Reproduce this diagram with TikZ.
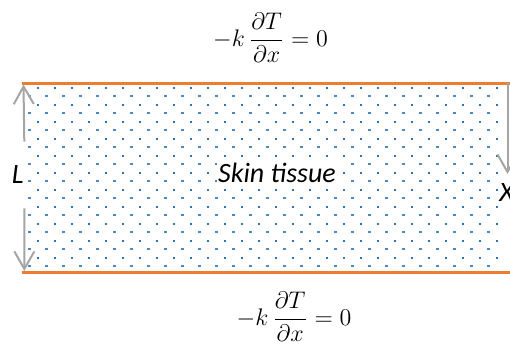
\documentclass[tikz,border=0pt]{standalone}
\usepackage{fontspec}
\setmainfont{Carlito}
\usetikzlibrary{arrows.meta}
\definecolor{orng}{HTML}{ED7D31}
\definecolor{gry}{HTML}{A5A5A5}
\definecolor{dotc}{HTML}{2E75B6}
\begin{document}
\begin{tikzpicture}[x=0.5pt,y=-0.5pt,
  bound/.style={draw=orng,line width=1.7pt},
  dimarrow/.style={draw=gry,line width=1pt,-{Straight Barb[length=8.8pt,width=10pt]}},
  lbl/.style={font=\fontsize{14}{16}\selectfont\itshape,inner sep=0pt},
  eqn/.style={font=\fontsize{11.5}{13}\selectfont,inner sep=0pt}]
\useasboundingbox (0,0) rectangle (510,347);
% dotted tissue fill
\foreach \j in {0,...,10}{
  \foreach \i in {0,...,27}{
    \fill[dotc] ({37.7+17*\i-1.1},{87.7+17*\j-1.1}) rectangle +(2.2,2.2);
    \fill[dotc!85] ({29.2+17*\i-1.3},{96.2+17*\j-0.7}) rectangle +(2.6,1.4);
  }
}
% boundaries
\coordinate (tl) at (22,83.3);
\coordinate (tr) at (510,83.3);
\coordinate (bl) at (22,272.3);
\coordinate (br) at (510,272.3);
\draw[bound] (tl) -- (tr);
\draw[bound] (bl) -- (br);
% dimension arrows
\coordinate (ua) at (24.3,141.7);
\coordinate (ub) at (23.5,84.5);
\coordinate (da) at (24.5,208.3);
\coordinate (db) at (24.3,271);
\coordinate (xa) at (507.5,83);
\coordinate (xb) at (507.5,174);
\draw[dimarrow] (ua) -- (ub);
\draw[dimarrow] (da) -- (db);
\draw[dimarrow] (xa) -- (xb);
% labels
\node[lbl,anchor=base,fill=white,inner sep=0.8pt] (skin) at (277,183) {Skin tissue};
\node[lbl,anchor=base] (L) at (17.7,184) {L};
\node[lbl,anchor=base west] (X) at (499,202) {X};
\node[eqn] (eqtop) at (270.5,38) {$\displaystyle -k\,\frac{\partial T}{\partial x}=0$};
\node[eqn] (eqbot) at (294,317) {$\displaystyle -k\,\frac{\partial T}{\partial x}=0$};
\end{tikzpicture}
\end{document}
